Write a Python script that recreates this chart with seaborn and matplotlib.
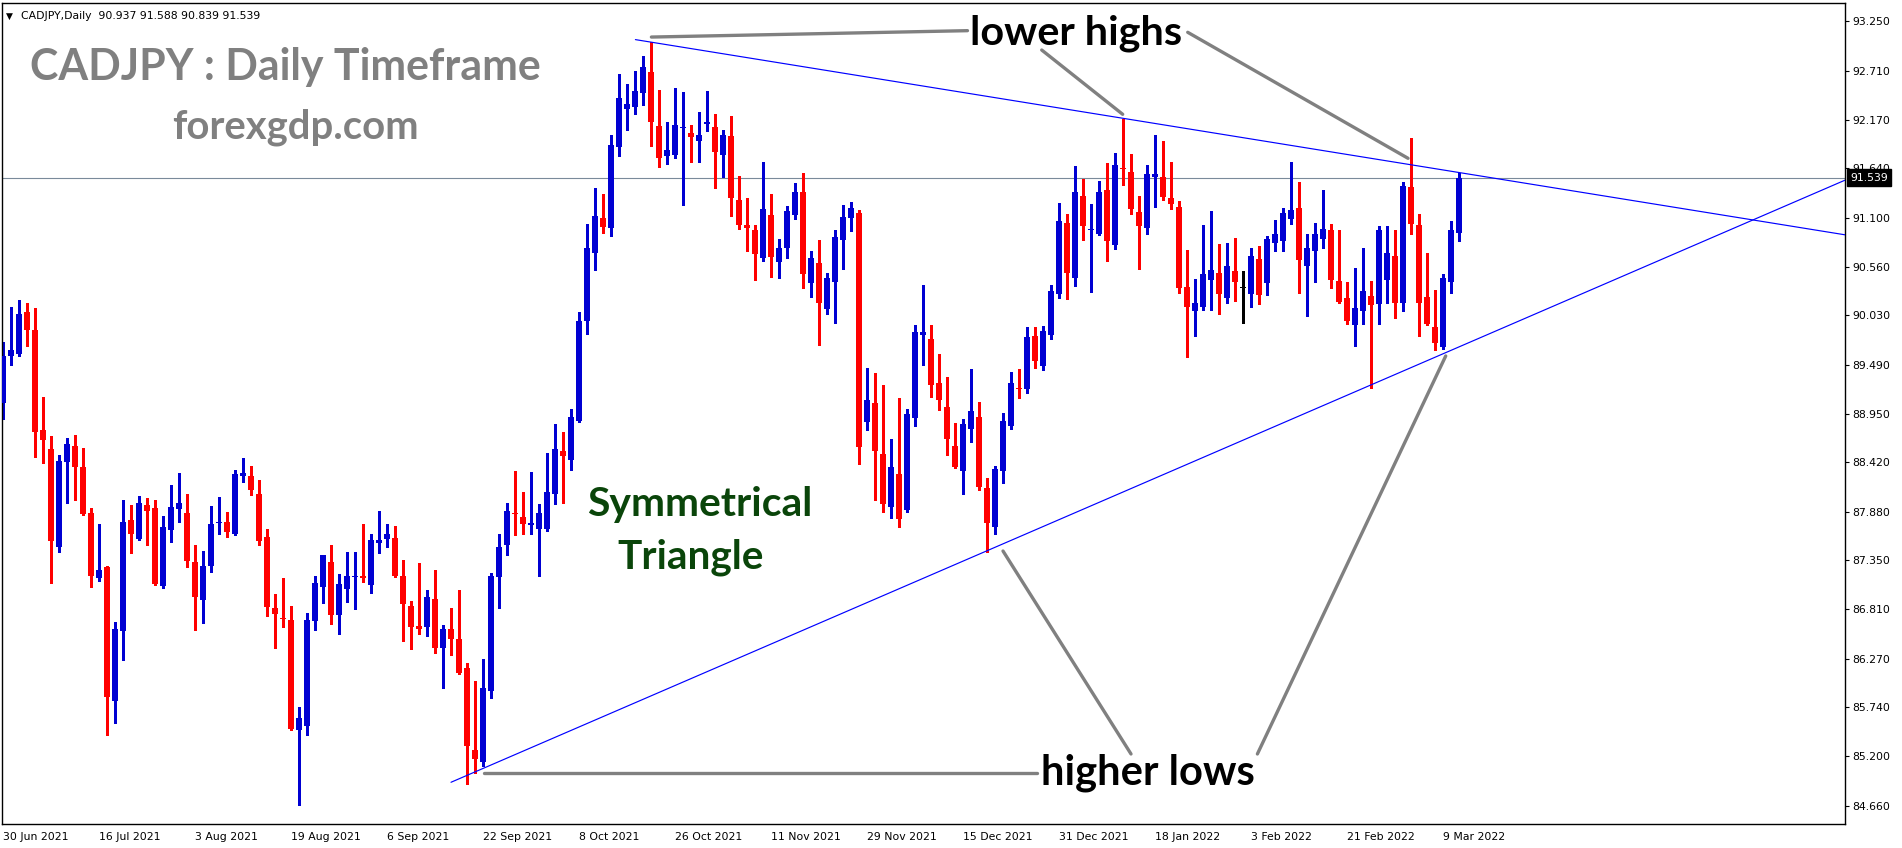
import numpy as np
import matplotlib
matplotlib.use("Agg")
import matplotlib.pyplot as plt
import matplotlib.transforms as mtransforms
import seaborn as sns

# ---------------- data (CADJPY daily, 30 Jun 2021 - 11 Mar 2022) ----------------
opens = [89.07, 89.58, 89.61, 90.07, 89.87, 88.77, 88.57, 87.49, 88.42, 88.60,
         88.37, 87.86, 87.15, 87.27, 85.81, 86.57, 87.79, 87.58, 87.95, 87.92,
         87.07, 87.68, 87.91, 87.86, 87.33, 86.91, 87.28, 87.76, 87.77, 87.63,
         88.27, 88.27, 88.07, 87.60, 86.83, 86.72, 86.69, 85.49, 85.53, 86.68,
         87.05, 87.33, 86.75, 87.03, 87.16, 87.17, 87.08, 87.54, 87.58, 87.59,
         87.18, 86.85, 86.63, 86.62, 86.92, 86.39, 86.60, 86.49, 86.17, 85.27,
         85.14, 85.92, 87.16, 87.51, 87.86, 87.82, 87.73, 87.69, 87.69, 88.07,
         88.54, 88.45, 88.87, 89.97, 90.71, 91.10, 90.99, 91.87, 92.29, 92.31,
         92.46, 92.69, 92.10, 91.77, 91.79, 92.08, 92.03, 91.94, 92.13, 92.09,
         91.79, 91.99, 91.29, 91.02, 90.97, 90.66, 91.13, 90.61, 90.77, 91.13,
         91.38, 90.38, 90.60, 90.10, 90.40, 90.86, 91.10, 91.15, 88.86, 89.07,
         88.51, 87.93, 88.29, 87.90, 88.91, 89.81, 89.77, 89.29, 89.03, 88.60,
         88.32, 88.78, 88.92, 88.14, 87.71, 88.32, 88.82, 89.23, 89.22, 89.80,
         89.48, 89.81, 90.26, 91.04, 90.44, 91.34, 90.96, 90.92, 91.40, 90.80,
         91.64, 91.60, 91.16, 90.99, 91.54, 91.54, 91.32, 91.22, 90.34, 90.08,
         90.12, 90.42, 90.49, 90.22, 90.52, 90.33, 90.26, 90.65, 90.38, 90.82,
         90.84, 91.09, 91.21, 90.57, 90.73, 90.87, 90.97, 90.41, 90.22, 89.92,
         90.08, 90.24, 90.15, 90.42, 90.68, 90.16, 91.44, 91.02, 90.23, 89.90,
         89.68, 90.40, 90.937]
highs = [89.74, 90.12, 90.20, 90.17, 90.11, 89.14, 88.71, 88.50, 88.69, 88.72,
         88.58, 87.92, 87.74, 87.28, 86.67, 88.01, 87.95, 88.05, 88.03, 88.01,
         87.83, 88.17, 88.30, 88.07, 87.51, 87.45, 87.94, 88.04, 87.88, 88.34,
         88.47, 88.38, 88.23, 87.69, 86.98, 87.15, 86.85, 85.74, 86.77, 87.18,
         87.41, 87.51, 87.20, 87.44, 87.44, 87.74, 87.64, 87.89, 87.74, 87.72,
         87.35, 86.90, 87.32, 87.02, 87.24, 86.64, 86.83, 87.02, 86.22, 86.03,
         86.27, 87.21, 87.63, 87.98, 88.32, 88.09, 88.31, 87.96, 88.52, 88.84,
         88.75, 89.00, 90.07, 91.03, 91.42, 91.36, 92.01, 92.67, 92.56, 92.71,
         92.87, 93.02, 92.50, 92.15, 92.52, 92.48, 92.11, 92.26, 92.49, 92.24,
         92.06, 92.21, 91.56, 91.31, 91.02, 91.71, 91.36, 90.87, 91.23, 91.48,
         91.59, 90.73, 90.85, 90.49, 90.96, 91.24, 91.27, 91.18, 89.45, 89.40,
         89.27, 88.68, 89.13, 89.00, 89.92, 90.36, 89.92, 89.61, 89.35, 88.85,
         88.90, 89.44, 89.08, 88.25, 88.38, 88.96, 89.41, 89.44, 89.90, 89.90,
         89.91, 90.36, 91.26, 91.14, 91.67, 91.52, 91.25, 91.50, 91.70, 91.81,
         92.18, 91.80, 91.34, 91.68, 92.01, 91.94, 91.71, 91.28, 90.75, 90.43,
         91.02, 91.17, 90.81, 90.82, 90.88, 90.52, 90.77, 90.79, 90.90, 91.07,
         91.21, 91.71, 91.49, 90.92, 91.04, 91.40, 91.03, 90.97, 90.40, 90.55,
         90.77, 90.41, 91.01, 91.01, 90.97, 91.49, 91.97, 91.14, 90.71, 90.31,
         90.48, 91.06, 91.588]
lows = [88.90, 89.49, 89.58, 89.69, 88.48, 88.41, 87.10, 87.44, 87.98, 88.01,
        87.84, 87.06, 87.12, 85.43, 85.56, 86.26, 87.43, 87.57, 87.51, 87.08,
        87.04, 87.55, 87.77, 87.27, 86.58, 86.66, 87.22, 87.64, 87.60, 87.62,
        88.21, 88.06, 87.51, 86.74, 86.39, 86.62, 85.49, 84.67, 85.43, 86.58,
        86.88, 86.65, 86.54, 86.89, 86.81, 87.11, 86.99, 87.43, 87.49, 87.16,
        86.46, 86.38, 86.54, 86.52, 86.33, 85.95, 86.31, 86.10, 84.90, 85.02,
        85.09, 85.84, 86.83, 87.40, 87.62, 87.64, 87.64, 87.18, 87.67, 87.96,
        87.98, 88.34, 88.86, 89.83, 90.53, 90.93, 90.90, 91.77, 92.06, 92.24,
        92.33, 91.89, 91.65, 91.69, 91.75, 91.24, 91.71, 91.71, 92.05, 91.43,
        91.54, 91.12, 90.98, 90.74, 90.42, 90.62, 90.45, 90.44, 90.66, 91.08,
        90.33, 90.23, 89.71, 90.04, 89.95, 90.54, 90.95, 88.40, 88.77, 88.01,
        87.88, 87.81, 87.71, 87.88, 88.82, 89.49, 89.14, 88.99, 88.50, 88.36,
        88.07, 88.64, 88.12, 87.44, 87.63, 88.19, 88.78, 89.12, 89.18, 89.45,
        89.43, 89.77, 90.22, 90.21, 90.35, 90.86, 90.29, 90.91, 90.63, 90.76,
        91.46, 91.14, 90.54, 90.92, 91.22, 91.29, 91.19, 90.28, 89.57, 89.80,
        90.09, 90.09, 90.05, 90.17, 90.19, 89.95, 90.12, 90.15, 90.25, 90.73,
        90.74, 91.03, 90.27, 90.02, 90.39, 90.77, 90.33, 90.17, 89.93, 89.69,
        89.93, 89.23, 89.93, 90.16, 90.00, 90.08, 90.92, 89.80, 89.92, 89.65,
        89.66, 90.28, 90.839]
closes = [89.58, 89.65, 90.05, 89.87, 88.75, 88.66, 87.56, 88.43, 88.62, 88.37,
          87.85, 87.18, 87.24, 85.85, 86.60, 87.77, 87.64, 87.97, 87.89, 87.09,
          87.71, 87.93, 87.97, 87.34, 86.94, 87.29, 87.74, 87.77, 87.66, 88.29,
          88.30, 88.12, 87.56, 86.84, 86.76, 86.71, 85.50, 85.62, 86.69, 87.10,
          87.40, 86.75, 87.09, 87.18, 87.18, 87.15, 87.57, 87.57, 87.63, 87.18,
          86.87, 86.62, 86.60, 86.95, 86.39, 86.59, 86.49, 86.11, 85.31, 85.17,
          85.95, 87.18, 87.49, 87.89, 87.85, 87.75, 87.76, 87.87, 88.10, 88.57,
          88.49, 88.92, 89.97, 90.77, 91.12, 91.00, 91.90, 92.41, 92.35, 92.49,
          92.75, 92.15, 91.75, 91.84, 92.11, 92.09, 91.98, 92.01, 92.15, 91.82,
          92.01, 91.31, 91.02, 90.99, 90.70, 91.19, 90.67, 90.77, 91.17, 91.38,
          90.48, 90.66, 90.16, 90.44, 90.89, 91.11, 91.21, 88.59, 89.10, 88.54,
          87.96, 88.37, 87.80, 88.95, 89.85, 89.85, 89.27, 89.10, 88.68, 88.37,
          88.84, 88.98, 88.15, 87.76, 88.35, 88.87, 89.29, 89.22, 89.79, 89.53,
          89.86, 90.30, 91.06, 90.49, 91.38, 91.01, 90.98, 91.38, 90.84, 91.68,
          91.63, 91.20, 91.01, 91.58, 91.58, 91.33, 91.25, 90.33, 90.12, 90.17,
          90.48, 90.53, 90.26, 90.57, 90.39, 90.33, 90.68, 90.25, 90.87, 90.92,
          91.15, 91.18, 90.64, 90.77, 90.92, 90.98, 90.42, 90.18, 89.97, 90.11,
          90.30, 90.14, 90.97, 90.71, 90.16, 91.45, 91.03, 90.17, 89.93, 89.73,
          90.44, 90.97, 91.539]

date_labels = ["30 Jun 2021", "16 Jul 2021", "3 Aug 2021", "19 Aug 2021",
               "6 Sep 2021", "22 Sep 2021", "8 Oct 2021", "26 Oct 2021",
               "11 Nov 2021", "29 Nov 2021", "15 Dec 2021", "31 Dec 2021",
               "18 Jan 2022", "3 Feb 2022", "21 Feb 2022", "9 Mar 2022"]
date_bar_index = [0, 12, 24, 36, 48, 60, 72, 84, 96, 108, 120, 132, 144, 156, 168, 180]
price_labels = ["93.250", "92.710", "92.170", "91.640", "91.100", "90.560",
                "90.030", "89.490", "88.950", "88.420", "87.880", "87.350",
                "86.810", "86.270", "85.740", "85.200", "84.660"]

# trend lines (bar index, price) anchor points
upper_trend = ([79.05, 222.125], [93.05, 91.027])
lower_trend = ([56.0, 222.125], [84.916, 91.203])
# grey pointer lines (bar index, price)
pointer_lines = [
    ([81.05, 120.56], [93.078, 93.148]),
    ([129.84, 139.96], [92.936, 92.232]),
    ([148.09, 175.63], [93.130, 91.750]),
    ([60.16, 129.25], [85.014, 85.014]),
    ([141.0, 125.0], [85.226, 87.449]),
    ([156.8, 180.34], [85.226, 89.585]),
]

# ---------------- figure ----------------
sns.set_style("white")
plt.rcParams["font.family"] = ["DejaVu Sans"]

W, H = 1902, 848
fig = plt.figure(figsize=(W / 100, H / 100), dpi=100)
fig.patch.set_facecolor("white")
ax = fig.add_axes([2 / W, 1 - 824 / H, (1845 - 2) / W, (824 - 3) / H])
ax.set_facecolor("white")

o = np.array(opens); h = np.array(highs); l = np.array(lows); c = np.array(closes)
x = np.arange(len(o))
BLUE, RED = "#0000D2", "#FF0000"
cols = np.where(c > o, BLUE, np.where(c < o, RED, "#000000"))
bottoms = np.minimum(o, c)
heights = np.abs(c - o)
min_h = 0.011
bottoms = np.where(heights < min_h, (o + c) / 2 - min_h / 2, bottoms)
heights = np.maximum(heights, min_h)

ax.vlines(x, l, h, colors=cols, linewidth=0.8, antialiased=False, zorder=2)
ax.bar(x, heights, bottom=bottoms, width=0.68, color=cols, linewidth=0,
       antialiased=False, zorder=3)

xmin, xmax = -0.125, 230.25
ymin, ymax = 84.459, 93.451
ax.set_xlim(xmin, xmax)
ax.set_ylim(ymin, ymax)

# current price line
last = closes[-1]
ax.axhline(last, color="#7A8A9A", linewidth=0.8, zorder=1)


def ray(pts, x_end):
    (x0, x1), (y0, y1) = pts
    slope = (y1 - y0) / (x1 - x0)
    return [x0, x_end], [y0, y0 + slope * (x_end - x0)]


for pts in (upper_trend, lower_trend):
    xs, ys = ray(pts, xmax)
    sns.lineplot(x=xs, y=ys, ax=ax, color="#0000FF", linewidth=0.85,
                 estimator=None, sort=False, zorder=4)

for xs, ys in pointer_lines:
    sns.lineplot(x=xs, y=ys, ax=ax, color="#808080", linewidth=2.4,
                 estimator=None, sort=False, zorder=5)

ax.set_xlim(xmin, xmax)
ax.set_ylim(ymin, ymax)
ax.set_xlabel("")
ax.set_ylabel("")

# axes styling
for sp in ax.spines.values():
    sp.set_visible(True)
    sp.set_color("black")
    sp.set_linewidth(1.0)

ax.yaxis.tick_right()
ax.set_yticks([float(s) for s in price_labels])
ax.set_yticklabels(price_labels)
ax.set_xticks(date_bar_index)
ax.set_xticklabels(date_labels, ha="left")
ax.tick_params(axis="both", direction="out", length=3.2, width=0.8,
               colors="black", labelsize=7.8, pad=2.2)
ax.tick_params(axis="x", pad=2.5)
for lab in ax.get_xticklabels():
    lab.set_horizontalalignment("left")

# price tag on the right axis
trans = mtransforms.blended_transform_factory(ax.transAxes, ax.transData)
ax.text(1.0027, last, f"{last:.3f}", transform=trans, color="white",
        fontsize=7.8, ha="left", va="center", clip_on=False, zorder=20,
        bbox=dict(boxstyle="square,pad=0.3", fc="black", ec="black"))

# header line
fig.text(6 / W, 1 - 16 / H, "\u25BC", fontsize=6.5, color="black",
         ha="left", va="center")
fig.text(21 / W, 1 - 16 / H,
         f"CADJPY,Daily  {opens[-1]:.3f} {highs[-1]:.3f} {lows[-1]:.3f} {closes[-1]:.3f}",
         fontsize=7.8, color="black", ha="left", va="center")

renderer = fig.canvas.get_renderer()


def place(text, left, baseline, width, color, family="Lato"):
    t = fig.text(left / W, 1 - baseline / H, text, ha="left", va="baseline",
                 color=color, fontsize=30, fontweight="bold", family=family,
                 zorder=30)
    bb = t.get_window_extent(renderer=renderer)
    t.set_fontsize(30 * width / bb.width)
    return t


place("CADJPY : Daily Timeframe", 30, 80, 512, "#808080")
place("forexgdp.com", 172, 138, 246, "#808080")
place("lower highs", 970, 44, 212, "#000000")
place("higher lows", 1041, 785, 214, "#000000")
place("Symmetrical", 587, 516, 226, "#0A450A")
place("Triangle", 617, 569, 146, "#0A450A")

fig.savefig("out.png", dpi=100, facecolor="white")
